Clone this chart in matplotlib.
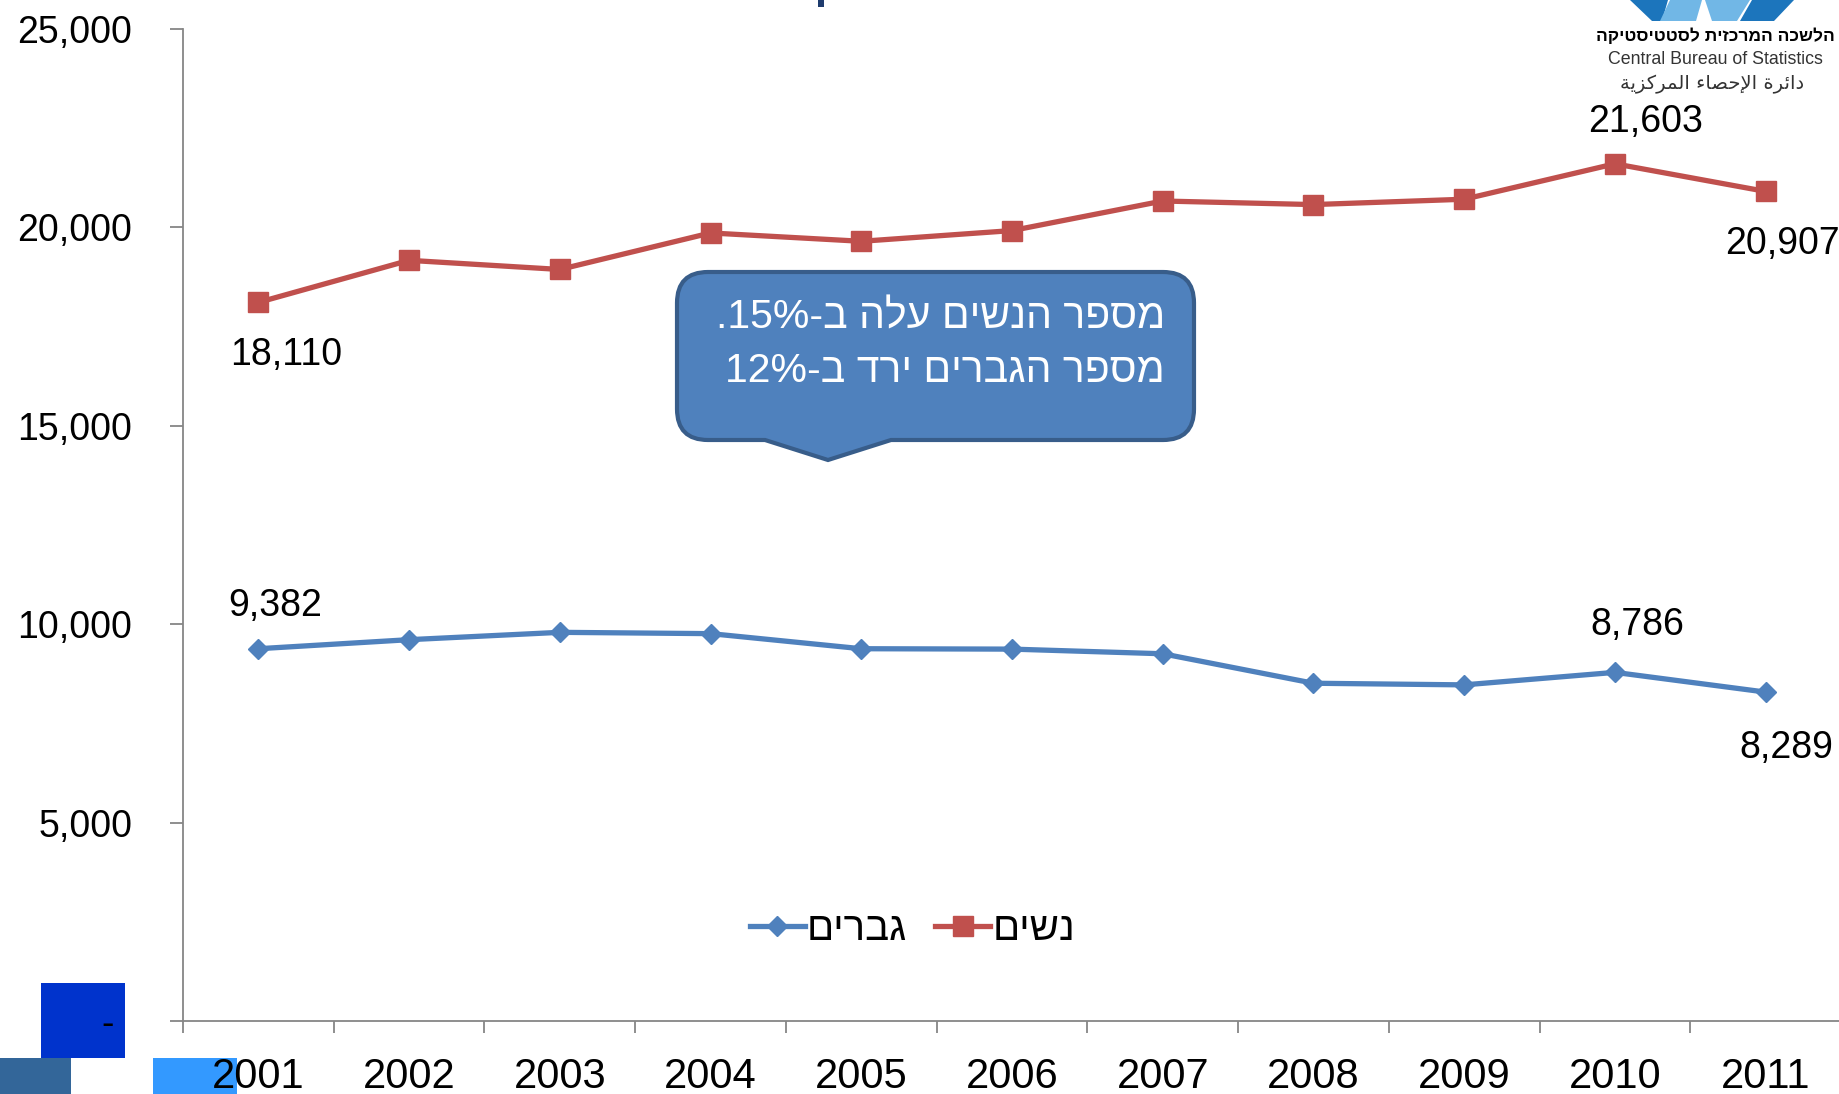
import re
import matplotlib

matplotlib.use("Agg")
import matplotlib.pyplot as plt
from matplotlib import font_manager
from matplotlib.path import Path
from matplotlib.patches import PathPatch, Rectangle, Polygon
from matplotlib.transforms import ScaledTranslation

# %% data
years = ["2001", "2002", "2003", "2004", "2005", "2006", "2007", "2008", "2009", "2010", "2011"]
women = [18110, 19170, 18940, 19860, 19650, 19920, 20665, 20575, 20710, 21603, 20907]
men = [9382, 9610, 9795, 9762, 9382, 9372, 9255, 8512, 8471, 8786, 8289]
y_ticks = [0, 5000, 10000, 15000, 20000, 25000]
y_tick_labels = ["-", "5,000", "10,000", "15,000", "20,000", "25,000"]

label_women = "נשים"
label_men = "גברים"
callout_lines = ["מספר הנשים עלה ב-15%.", "מספר הגברים ירד ב-12%"]
logo_he = "הלשכה המרכזית לסטטיסטיקה"
logo_en = "Central Bureau of Statistics"
# Arabic in presentation forms (matplotlib does no shaping)
logo_ar_words = [
    "\uFEA9\uFE8D\uFE8B\uFEAE\uFE93",
    "\uFE8D\uFEF9\uFEA3\uFEBC\uFE8E\uFE80",
    "\uFE8D\uFEDF\uFEE4\uFEAE\uFEDB\uFEB0\uFEF3\uFE94",
]

RED = "#C0504D"
BLUE = "#4F81BD"
GRAY = "#868686"

W, H = 1839, 1094

names = {f.name for f in font_manager.fontManager.ttflist}
if "Liberation Sans Narrow" in names:
    NUM_FONT, NUM_SIZE = ["Liberation Sans Narrow", "DejaVu Sans"], 33
else:
    NUM_FONT, NUM_SIZE = ["Liberation Sans", "DejaVu Sans"], 27
TXT_FONT = ["Liberation Sans", "DejaVu Sans"]


def rtl(s):
    # visual order for left-to-right rendering; keep number runs intact
    r = s[::-1]
    return re.sub(r"[0-9%]+", lambda m: m.group(0)[::-1], r)


def fxy(x, y):
    # pixel (y down) -> figure fraction
    return (x / W, 1 - y / H)


# %% figure
fig = plt.figure(figsize=(W / 100, H / 100), dpi=100)
ax = fig.add_axes([183 / W, 1 - 1021 / H, 1658 / W, 992 / H])
ax.patch.set_alpha(0)

x = list(range(1, len(years) + 1))
(l_men,) = ax.plot(x, men, color=BLUE, lw=3.8, marker="D", ms=10.5, zorder=3)
(l_women,) = ax.plot(x, women, color=RED, lw=3.8, marker="s", ms=14.5, zorder=3)

ax.set_xlim(0.5, len(years) + 0.5)
ax.set_ylim(0, 25000)
for s in ["top", "right"]:
    ax.spines[s].set_visible(False)
for s in ["left", "bottom"]:
    ax.spines[s].set_color(GRAY)
    ax.spines[s].set_linewidth(1.3)

ax.set_xticks(x)
ax.set_xticklabels(years, fontfamily=TXT_FONT, fontsize=30)
ax.set_xticks([i + 0.5 for i in range(len(years) + 1)], minor=True)
ax.tick_params(axis="x", which="major", length=0, pad=26)
ax.tick_params(axis="x", which="minor", length=8.6, width=1.3, color=GRAY)

ax.set_yticks(y_ticks)
ax.set_yticklabels(y_tick_labels, fontfamily=NUM_FONT, fontsize=NUM_SIZE)
ax.tick_params(axis="y", length=9.4, width=1.3, color=GRAY, pad=27)
# accounting-style zero: dash sits a bit left of the number column
zero_lab = ax.get_yticklabels()[0]
zero_lab.set_transform(zero_lab.get_transform() + ScaledTranslation(-0.19, 0, fig.dpi_scale_trans))

# data labels (offsets in points)
labels = [
    (women, 0, (20, -38)),
    (women, 9, (22, 30)),
    (women, 10, (12, -38)),
    (men, 0, (12, 31)),
    (men, 9, (16, 34)),
    (men, 10, (15, -40)),
]
for series, i, off in labels:
    ax.annotate(f"{series[i]:,}", (x[i], series[i]), xytext=off, textcoords="offset points",
                ha="center", va="center", fontfamily=NUM_FONT, fontsize=NUM_SIZE,
                annotation_clip=False)

leg = ax.legend([l_men, l_women], [rtl(label_men), rtl(label_women)], ncol=2,
                loc="center", bbox_to_anchor=(0.44, 0.093), frameon=False,
                prop={"family": TXT_FONT, "size": 29}, handlelength=1.37,
                handletextpad=0.05, columnspacing=0.7)

# %% callout
x0, x1, y0, y1, r = 677, 1194, 272, 440, 31
b0, b1, tip = 765, 891, (828, 460)
pts = [
    ((x0 + r, y0), Path.MOVETO), ((x1 - r, y0), Path.LINETO),
    ((x1, y0), Path.CURVE3), ((x1, y0 + r), Path.CURVE3),
    ((x1, y1 - r), Path.LINETO),
    ((x1, y1), Path.CURVE3), ((x1 - r, y1), Path.CURVE3),
    ((b1, y1), Path.LINETO), (tip, Path.LINETO), ((b0, y1), Path.LINETO),
    ((x0 + r, y1), Path.LINETO),
    ((x0, y1), Path.CURVE3), ((x0, y1 - r), Path.CURVE3),
    ((x0, y0 + r), Path.LINETO),
    ((x0, y0), Path.CURVE3), ((x0 + r, y0), Path.CURVE3),
    ((x0 + r, y0), Path.CLOSEPOLY),
]
path = Path([fxy(*p) for p, c in pts], [c for p, c in pts])
fig.add_artist(PathPatch(path, transform=fig.transFigure, facecolor=BLUE,
                         edgecolor="#385D8A", lw=3, zorder=5))
for line, yy in zip(callout_lines, [318, 371]):
    fig.text(*fxy(1165, yy), rtl(line), ha="right", va="center", color="white",
             fontfamily=TXT_FONT, fontsize=29.5, zorder=6)

# %% logo and slide decorations
fig.text(*fxy(1715, 36), rtl(logo_he), ha="center", va="center", fontsize=12.5,
         fontweight="bold", fontfamily=["Liberation Sans Narrow", "Liberation Sans", "DejaVu Sans"])
fig.text(*fxy(1715, 60), logo_en, ha="center", va="center", fontsize=12.8,
         color="#333333", fontfamily=TXT_FONT)
fig.text(*fxy(1712, 84), " ".join(logo_ar_words)[::-1], ha="center", va="center",
         fontsize=14, color="#333333", fontfamily=["DejaVu Sans"])

shapes = [
    ([(1630, 0), (1668, 0), (1662, 21), (1652, 21)], "#1C75BC"),
    ([(1670, 0), (1702, 0), (1696, 21), (1660, 21)], "#71B7E6"),
    ([(1705, 0), (1750, 0), (1737, 21), (1712, 21)], "#71B7E6"),
    ([(1752, 0), (1794, 0), (1774, 21), (1740, 21)], "#1C75BC"),
]
for poly, col in shapes:
    fig.add_artist(Polygon([fxy(*p) for p in poly], closed=True, transform=fig.transFigure,
                           facecolor=col, edgecolor="none"))

rects = [
    (818, 0, 6, 7, "#1F3C6E"),
    (41, 983, 84, 75, "#0033CC"),
    (0, 1058, 71, 36, "#336699"),
    (153, 1058, 84, 36, "#3399FF"),
]
for rx, ry, rw, rh, col in rects:
    fig.add_artist(Rectangle(fxy(rx, ry + rh), rw / W, rh / H, transform=fig.transFigure,
                             facecolor=col, edgecolor="none", zorder=-1))

fig.savefig("out.png", dpi=100)
